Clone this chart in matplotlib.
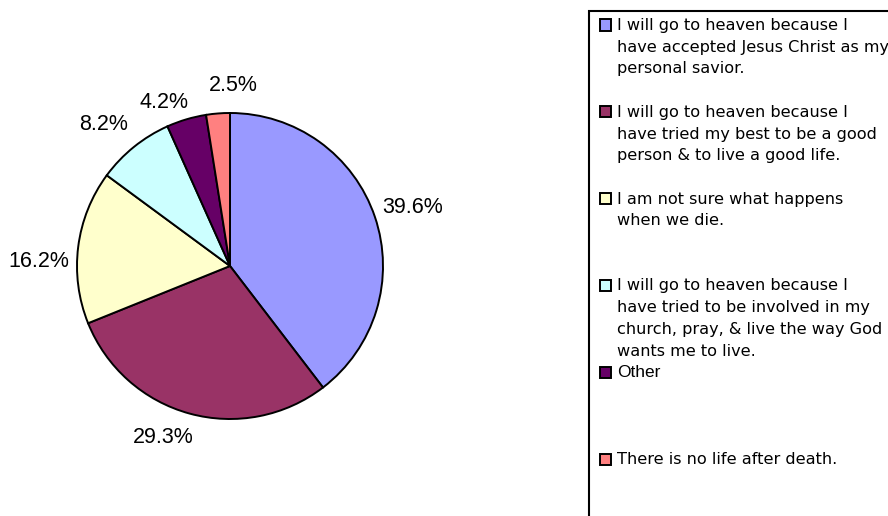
import matplotlib
matplotlib.use("Agg")
import numpy as np
import matplotlib.pyplot as plt
from matplotlib.patches import Rectangle

# data
labels = [
    "I will go to heaven because I\nhave accepted Jesus Christ as my\npersonal savior.",
    "I will go to heaven because I\nhave tried my best to be a good\nperson & to live a good life.",
    "I am not sure what happens\nwhen we die.",
    "I will go to heaven because I\nhave tried to be involved in my\nchurch, pray, & live the way God\nwants me to live.",
    "Other",
    "There is no life after death.",
]
values = [39.6, 29.3, 16.2, 8.2, 4.2, 2.5]
colors = ["#9999FF", "#993366", "#FFFFCC", "#CCFFFF", "#660066", "#FF8080"]

# small nudges so the percent labels sit where the original put them
label_turn = [-1, -6, 6, 3, 5.5, -5.5]          # degrees
label_dist = [1.25, 1.20, 1.25, 1.24, 1.15, 1.18]  # in radii

W, H = 888, 516
fig = plt.figure(figsize=(W / 100, H / 100), dpi=100)

# pie: centre (230, 266) px, radius 153 px
cx, cy, r = 230, 266, 153
ax = fig.add_axes([(cx - r) / W, (H - cy - r) / H, 2 * r / W, 2 * r / H])
wedges, texts, autotexts = ax.pie(
    values, colors=colors, startangle=90, counterclock=False, radius=1,
    autopct="%1.1f%%", pctdistance=1.22,
    wedgeprops=dict(edgecolor="black", linewidth=1.4),
    textprops=dict(family="Liberation Sans", fontsize=15.5, color="black"))
for w, t, turn, d in zip(wedges, autotexts, label_turn, label_dist):
    ang = np.deg2rad((w.theta1 + w.theta2) / 2 + turn)
    t.set_position((d * np.cos(ang), d * np.sin(ang)))
    t.set_ha("center")
    t.set_va("center")
ax.set_xlim(-1, 1)
ax.set_ylim(-1, 1)
ax.set_aspect("auto")
ax.axis("off")

# legend box (runs off the right and bottom edges)
fig.patches.append(Rectangle((589 / W, -0.1), 0.5, (H - 11) / H + 0.1,
                             transform=fig.transFigure, fill=False,
                             edgecolor="black", linewidth=1.5))

slot = 86.8
for i, (lab, col) in enumerate(zip(labels, colors)):
    yc = 25 + i * slot
    fig.patches.append(Rectangle((600 / W, (H - yc - 5.5) / H), 11 / W, 11 / H,
                                 transform=fig.transFigure, facecolor=col,
                                 edgecolor="black", linewidth=1.4))
    fam = "Liberation Sans" if lab == "Other" else "DejaVu Sans"
    fs = 12.5 if lab == "Other" else 11.6
    fig.text(617 / W, (H - yc + 7) / H, lab, ha="left", va="top",
             fontsize=fs, family=fam, linespacing=1.56, color="black")

fig.savefig("out.png", dpi=100)
